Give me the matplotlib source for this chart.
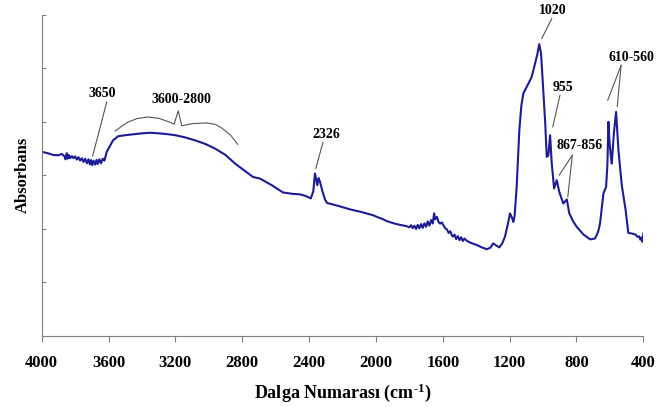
import numpy as np
import matplotlib
matplotlib.use("Agg")
import matplotlib.pyplot as plt

plt.rcParams['font.family'] = ['Liberation Serif', 'DejaVu Serif']
plt.rcParams['font.weight'] = 'bold'
plt.rcParams['mathtext.fontset'] = 'custom'
plt.rcParams['mathtext.rm'] = 'Liberation Serif:bold'
plt.rcParams['mathtext.default'] = 'regular'

# FTIR spectrum (wavenumber, absorbance in arbitrary units)
wavenumber = [4000, 3960, 3930, 3900, 3880, 3865, 3858, 3850, 3845, 3838, 3830, 3820,
              3810, 3800, 3790, 3780, 3770, 3760, 3750, 3740, 3730, 3720, 3712, 3705,
              3698, 3690, 3680, 3672, 3665, 3655, 3645, 3635, 3625, 3611, 3590, 3573,
              3543, 3500, 3442, 3400, 3352, 3300, 3250, 3202, 3150, 3083, 3020, 2963,
              2900, 2843, 2790, 2736, 2694, 2620, 2556, 2500, 2454, 2420, 2390, 2375,
              2365, 2358, 2351, 2343, 2335, 2320, 2305, 2293, 2220, 2155, 2080, 2017,
              1987, 1960, 1935, 1900, 1870, 1840, 1815, 1800, 1790, 1780, 1770, 1760,
              1750, 1740, 1730, 1720, 1710, 1700, 1690, 1680, 1670, 1660, 1652, 1645,
              1635, 1625, 1616, 1605, 1597, 1585, 1575, 1565, 1555, 1545, 1539, 1530,
              1520, 1510, 1500, 1490, 1480, 1470, 1457, 1440, 1420, 1397, 1370, 1337,
              1315, 1298, 1280, 1262, 1245, 1228, 1210, 1198, 1185, 1178, 1170, 1158,
              1142, 1130, 1118, 1090, 1068, 1048, 1035, 1023, 1012, 1000, 987, 978,
              968, 958, 948, 934, 918, 903, 879, 858, 843, 820, 799, 760, 719, 690,
              679, 668, 659, 650, 639, 623, 615, 609, 603, 596, 589, 576, 563, 549,
              529, 506, 490, 470, 455, 446, 435, 425, 418, 410, 405, 400]
absorbance = [0.688, 0.682, 0.676, 0.675, 0.680, 0.672, 0.660, 0.683, 0.662, 0.676, 0.664, 0.672,
              0.664, 0.671, 0.659, 0.668, 0.655, 0.664, 0.650, 0.662, 0.645, 0.660, 0.641, 0.657,
              0.638, 0.655, 0.640, 0.658, 0.642, 0.660, 0.645, 0.662, 0.655, 0.688, 0.712, 0.731,
              0.746, 0.750, 0.754, 0.757, 0.759, 0.757, 0.754, 0.750, 0.743, 0.731, 0.717, 0.700,
              0.676, 0.644, 0.619, 0.594, 0.588, 0.562, 0.536, 0.531, 0.529, 0.523, 0.514, 0.540,
              0.607, 0.585, 0.563, 0.590, 0.576, 0.540, 0.510, 0.497, 0.485, 0.473, 0.462, 0.451,
              0.443, 0.437, 0.429, 0.422, 0.417, 0.413, 0.410, 0.406, 0.414, 0.403, 0.412, 0.400,
              0.415, 0.402, 0.418, 0.404, 0.421, 0.408, 0.428, 0.412, 0.433, 0.420, 0.458, 0.436,
              0.445, 0.425, 0.420, 0.424, 0.414, 0.402, 0.398, 0.385, 0.391, 0.375, 0.371, 0.379,
              0.362, 0.373, 0.358, 0.369, 0.355, 0.364, 0.356, 0.350, 0.345, 0.340, 0.332, 0.324,
              0.330, 0.346, 0.338, 0.331, 0.345, 0.371, 0.420, 0.458, 0.440, 0.426, 0.450, 0.557,
              0.769, 0.860, 0.906, 0.940, 0.968, 1.018, 1.050, 1.090, 1.055, 0.930, 0.794, 0.669,
              0.675, 0.750, 0.644, 0.551, 0.582, 0.538, 0.495, 0.510, 0.458, 0.428, 0.408, 0.380,
              0.361, 0.364, 0.377, 0.395, 0.421, 0.470, 0.532, 0.557, 0.640, 0.800, 0.731, 0.680,
              0.644, 0.760, 0.837, 0.694, 0.563, 0.470, 0.385, 0.383, 0.380, 0.379, 0.370, 0.372,
              0.360, 0.368, 0.352, 0.383]

# peak annotations: label, text position, line endpoints (wavenumber, absorbance)
labels = ['3650', '2326', '1020', '955', '610-560', '867-856']
label_pos = [(3639, 0.907), (2298, 0.754), (939, 1.216), (879, 0.928), (469, 1.042), (779, 0.713)]
leader_from = [(3611, 0.874), (2317, 0.723), (948, 1.185), (899, 0.899), (533, 1.011), (825, 0.675)]
leader_to = [[(3695, 0.673)], [(2360, 0.626)], [(1008, 1.111)], [(942, 0.781)],
             [(613, 0.881), (556, 0.858)], [(903, 0.601), (852, 0.520)]]

# brace over the broad 3600-2800 band
brace_wn = [3561, 3520, 3484, 3430, 3364, 3300, 3240, 3208, 3183, 3162, 3100, 3013, 2960, 2921, 2870, 2827]
brace_abs = [0.765, 0.784, 0.799, 0.812, 0.818, 0.813, 0.800, 0.791, 0.841, 0.785, 0.793, 0.796, 0.790, 0.776, 0.750, 0.716]

fig = plt.figure(figsize=(6.56, 4.07), dpi=100)
ax = fig.add_axes([0.0636, 0.1744, 0.9171, 0.7895])

ax.plot(wavenumber, absorbance, color='#1c1c96', lw=1.5)
ax.plot(brace_wn, brace_abs, color='#555555', lw=0.8)
ax.text(3166, 0.884, '3600-2800', ha='center', va='center', fontsize=10, fontweight='bold')

for lab, pos, start, ends in zip(labels, label_pos, leader_from, leader_to):
    ax.text(pos[0], pos[1], lab, ha='center', va='center', fontsize=10,
            fontweight='bold', clip_on=False)
    for end in ends:
        ax.plot([start[0], end[0]], [start[1], end[1]], color='#555555', lw=0.8, clip_on=False)

ax.set_xlim(4000, 400)
ax.set_ylim(0, 1.2)
ax.set_xticks(np.arange(4000, 399, -400))
ax.set_yticks(np.arange(0, 1.21, 0.2))
ax.set_yticklabels([])
ax.tick_params(axis='x', direction='out', length=4, color='#808080', labelsize=12, pad=10)
ax.tick_params(axis='y', direction='in', length=3, color='#808080')
for lab in ax.get_xticklabels():
    lab.set_fontweight('bold')

for side in ['top', 'right']:
    ax.spines[side].set_visible(False)
for side in ['left', 'bottom']:
    ax.spines[side].set_color('#808080')

ax.set_xlabel(r'Dalga Numarası (cm$^{\text{-1}}$)', fontsize=13, fontweight='bold', labelpad=7)
ax.set_ylabel('Absorbans', fontsize=12, fontweight='bold', labelpad=4)

fig.savefig('out.png', dpi=100)
